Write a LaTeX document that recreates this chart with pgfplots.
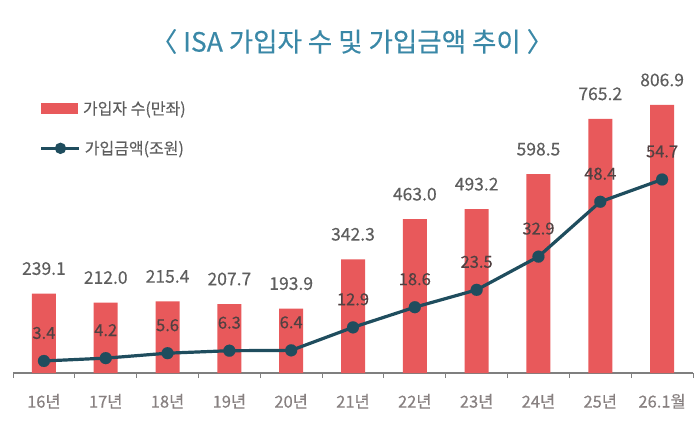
\documentclass[border=0pt]{standalone}
\usepackage{pgfplots}
\pgfplotsset{compat=1.18}
\usepackage{pgfplotstable}
\usepackage{fontspec}
\setmainfont{Noto Sans CJK KR}[FakeBold=0.35]
\definecolor{barred}{HTML}{E8595B}
\definecolor{lineC}{HTML}{1F4D5E}
\definecolor{titleC}{HTML}{3A88A7}
\definecolor{valC}{HTML}{5E5E5E}
\definecolor{tickC}{HTML}{878080}
\definecolor{axisC}{HTML}{7F7F7F}

\pgfplotstableread{
x y
0 239.1
1 212.0
2 215.4
3 207.7
4 193.9
5 342.3
6 463.0
7 493.2
8 598.5
9 765.2
10 806.9
}\bardata

\pgfplotstableread{
x y
0 3.4
1 4.2
2 5.6
3 6.3
4 6.4
5 12.9
6 18.6
7 23.5
8 32.9
9 48.4
10 54.7
}\linedata

\begin{document}
\begin{tikzpicture}
\path[use as bounding box] (0,0) rectangle (700bp,435bp);
\node[text=titleC, font=\fontsize{26.5bp}{30bp}\selectfont] at (352bp,393.5bp) {〈 ISA 가입자 수 및 가입금액 추이 〉};

\begin{axis}[
  at={(13bp,62bp)}, anchor=south west, scale only axis,
  width=680bp, height=283bp,
  xmin=-0.5, xmax=10.5, ymin=0, ymax=852,
  clip=false,
  axis y line=none, axis x line*=bottom,
  x axis line style={axisC, line width=1.3bp, -},
  xtick={0,...,10},
  xticklabels={16년,17년,18년,19년,20년,21년,22년,23년,24년,25년,26.1월},
  major x tick style={draw=none},
  minor xtick={-0.5,0.5,...,10.5},
  minor x tick style={axisC, line width=1bp},
  minor tick length=5bp,
  tick align=outside,
  xticklabel style={text=tickC, font=\fontsize{16.5bp}{18bp}\selectfont, anchor=center, yshift=-24bp},
  /pgf/number format/.cd, fixed, fixed zerofill, precision=1, 1000 sep={}, assume math mode=true,
]
\addplot[ybar, bar width=24bp, fill=barred, draw=none,
  nodes near coords,
  every node near coord/.append style={anchor=center, yshift=25bp, text=valC, font=\fontsize{17.5bp}{20bp}\selectfont}]
  table[x=x, y=y] {\bardata};
\end{axis}

\begin{axis}[
  at={(13bp,62bp)}, anchor=south west, scale only axis,
  width=680bp, height=283bp,
  xmin=-0.5, xmax=10.5, ymin=0, ymax=80,
  clip=false, axis lines=none,
  legend style={at={(axis description cs:0.035,0.975)}, anchor=north west, draw=none, fill=none,
    font=\fontsize{16bp}{18bp}\selectfont, text=valC, row sep=21bp},
  /pgf/number format/.cd, fixed, fixed zerofill, precision=1, 1000 sep={}, assume math mode=true,
]
\addlegendimage{legend image code/.code={\fill[barred] (0bp,-5bp) rectangle (36bp,5bp);}}
\addlegendentry{가입자 수(만좌)}
\addplot[lineC, line width=3.2bp, mark=*, mark size=6bp,
  mark options={draw=lineC, fill=lineC, line width=0.1bp},
  nodes near coords,
  every node near coord/.append style={anchor=center, yshift=28bp, text=valC!85!barred!70!black, font=\fontsize{16.5bp}{19bp}\selectfont},
  legend image code/.code={\draw[lineC, line width=3bp] (0bp,0bp)--(38bp,0bp); \fill[lineC] (19bp,0bp) circle (4bp);}]
  table[x=x, y=y] {\linedata};
\addlegendentry{가입금액(조원)}
\end{axis}
\end{tikzpicture}
\end{document}
